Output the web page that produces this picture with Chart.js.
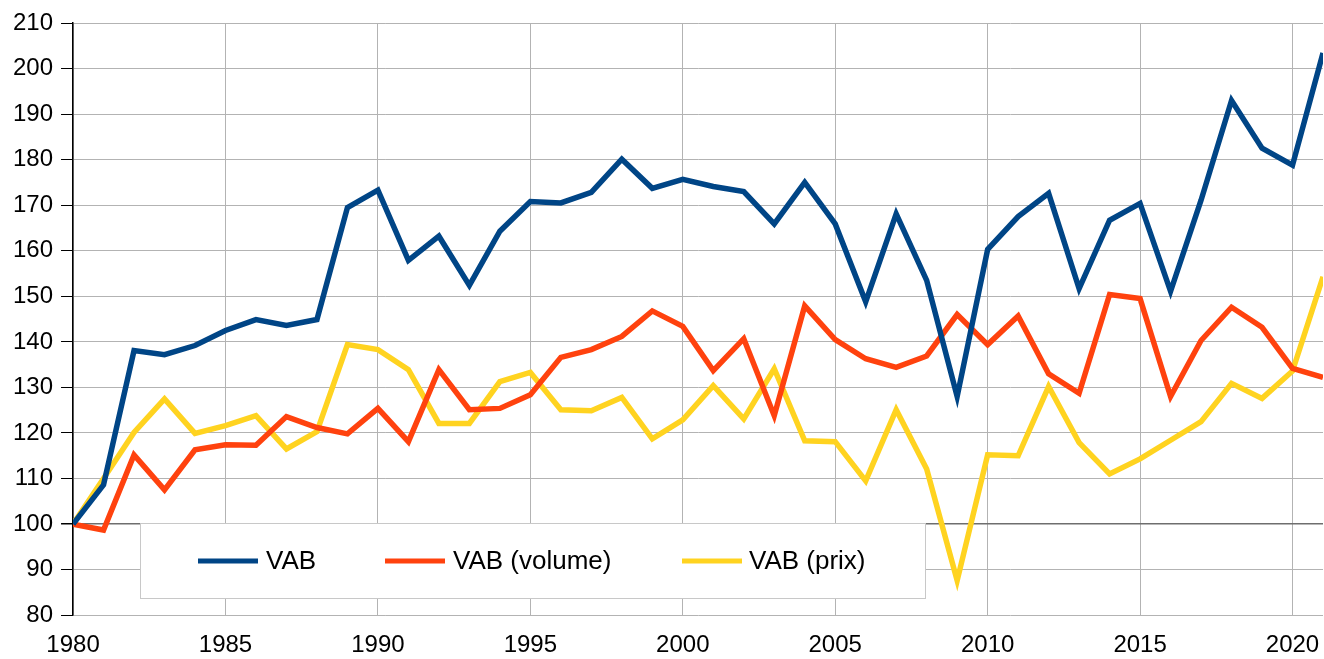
<!DOCTYPE html>
<html>
<head>
<meta charset="utf-8">
<script src="https://cdn.jsdelivr.net/npm/chart.js@4"></script>
<style>
  html, body { margin: 0; padding: 0; background: #fff; }
  canvas { display: block; }
</style>
</head>
<body>
<canvas id="c" width="1324" height="659" style="width:1324px;height:659px"></canvas>
<script>
const years = [1980,1981,1982,1983,1984,1985,1986,1987,1988,1989,1990,1991,1992,1993,1994,1995,1996,1997,1998,1999,2000,2001,2002,2003,2004,2005,2006,2007,2008,2009,2010,2011,2012,2013,2014,2015,2016,2017,2018,2019,2020,2021];
const vab = [100,108.6,138.1,137.2,139.2,142.5,144.9,143.6,144.9,169.5,173.3,157.9,163.2,152.4,164.3,170.8,170.5,172.8,180.1,173.7,175.7,174.1,173.0,165.9,175.0,165.9,148.8,168.1,153.5,128.0,160.3,167.5,172.6,151.7,166.7,170.4,151.1,171.1,193.0,182.5,178.8,203.4];
const vabVolume = [100,98.7,115.2,107.5,116.3,117.4,117.3,123.6,121.2,119.8,125.4,118.1,133.9,125.1,125.4,128.4,136.6,138.3,141.2,146.8,143.4,133.7,140.7,123.8,147.9,140.5,136.3,134.4,136.9,146.0,139.4,145.7,133.0,128.7,150.4,149.5,128.0,140.3,147.6,143.2,134.2,132.2];
const vabPrix = [100,110.0,120.1,127.5,119.9,121.6,123.8,116.5,120.3,139.4,138.3,133.9,122.1,122.1,131.3,133.3,125.1,124.9,127.8,118.7,122.9,130.4,123.1,134.1,118.3,118.1,109.5,125.1,112.1,87.6,115.2,115.0,130.2,117.9,111.0,114.3,118.4,122.5,130.9,127.6,133.6,154.3];
const seriesLabels = ["VAB", "VAB (volume)", "VAB (prix)"];
const seriesColors = ["#004586", "#ff420e", "#ffd320"];
const xMin = 1980, xMax = 2021, xStep = 5;
const yMin = 80, yMax = 210, yStep = 10;

const FONT = "'Liberation Sans', Arial, sans-serif";

function pts(arr) { return arr.map((v, i) => ({ x: years[i], y: v })); }

const legendBox = {
  id: 'legendBox',
  afterDatasetsDraw(chart) {
    const ctx = chart.ctx;
    const box = { x: 140.5, y: 523.5, w: 785, h: 75 };
    ctx.save();
    ctx.fillStyle = '#fff';
    ctx.fillRect(box.x, box.y, box.w, box.h);
    ctx.strokeStyle = '#c8c8c8';
    ctx.lineWidth = 1;
    ctx.strokeRect(box.x, box.y, box.w, box.h);
    const items = [
      { sx: 198, tx: 266 },
      { sx: 385, tx: 453 },
      { sx: 682, tx: 749 }
    ];
    const cy = 561;
    ctx.font = '26px ' + FONT;
    ctx.textBaseline = 'middle';
    ctx.textAlign = 'left';
    chart.data.datasets.forEach((ds, i) => {
      const it = items[i];
      ctx.strokeStyle = ds.borderColor;
      ctx.lineWidth = 5;
      ctx.beginPath();
      ctx.moveTo(it.sx, cy);
      ctx.lineTo(it.sx + 60, cy);
      ctx.stroke();
      ctx.fillStyle = '#000';
      ctx.fillText(ds.label, it.tx, cy + 1);
    });
    ctx.restore();
  }
};

new Chart(document.getElementById('c'), {
  type: 'line',
  data: {
    datasets: [
      { label: seriesLabels[0], data: pts(vab), borderColor: seriesColors[0] },
      { label: seriesLabels[1], data: pts(vabVolume), borderColor: seriesColors[1] },
      { label: seriesLabels[2], data: pts(vabPrix), borderColor: seriesColors[2] }
    ].map(d => Object.assign(d, { borderWidth: 5.5, pointRadius: 0, tension: 0, fill: false, backgroundColor: d.borderColor }))
  },
  options: {
    responsive: false,
    animation: false,
    devicePixelRatio: 1,
    layout: { padding: { top: 23, right: 1, bottom: -17, left: 5 } },
    plugins: { legend: { display: false }, tooltip: { enabled: false } },
    scales: {
      x: {
        type: 'linear',
        min: xMin, max: xMax,
        afterFit: s => { s.paddingLeft = 0; s.paddingRight = 0; },
        ticks: {
          stepSize: xStep, includeBounds: false, autoSkip: false, maxRotation: 0,
          callback: v => String(v),
          font: { size: 24, family: FONT }, color: '#000', padding: 16
        },
        grid: { color: '#b3b3b3', lineWidth: 1, drawTicks: false },
        border: { display: false }
      },
      y: {
        min: yMin, max: yMax,
        afterFit: s => { s.paddingTop = 0; s.paddingBottom = 0; },
        ticks: {
          stepSize: yStep,
          callback: v => String(v),
          font: { size: 24, family: FONT }, color: '#000', padding: 8
        },
        grid: {
          color: c => (c.tick && c.tick.value === 100) ? '#6e6e6e' : '#b3b3b3',
          lineWidth: c => (c.tick && c.tick.value === 100) ? 1.5 : 1,
          tickColor: '#000', tickLength: 12
        },
        border: { color: '#000', width: 1.5 }
      }
    }
  },
  plugins: [legendBox]
});
</script>
</body>
</html>
